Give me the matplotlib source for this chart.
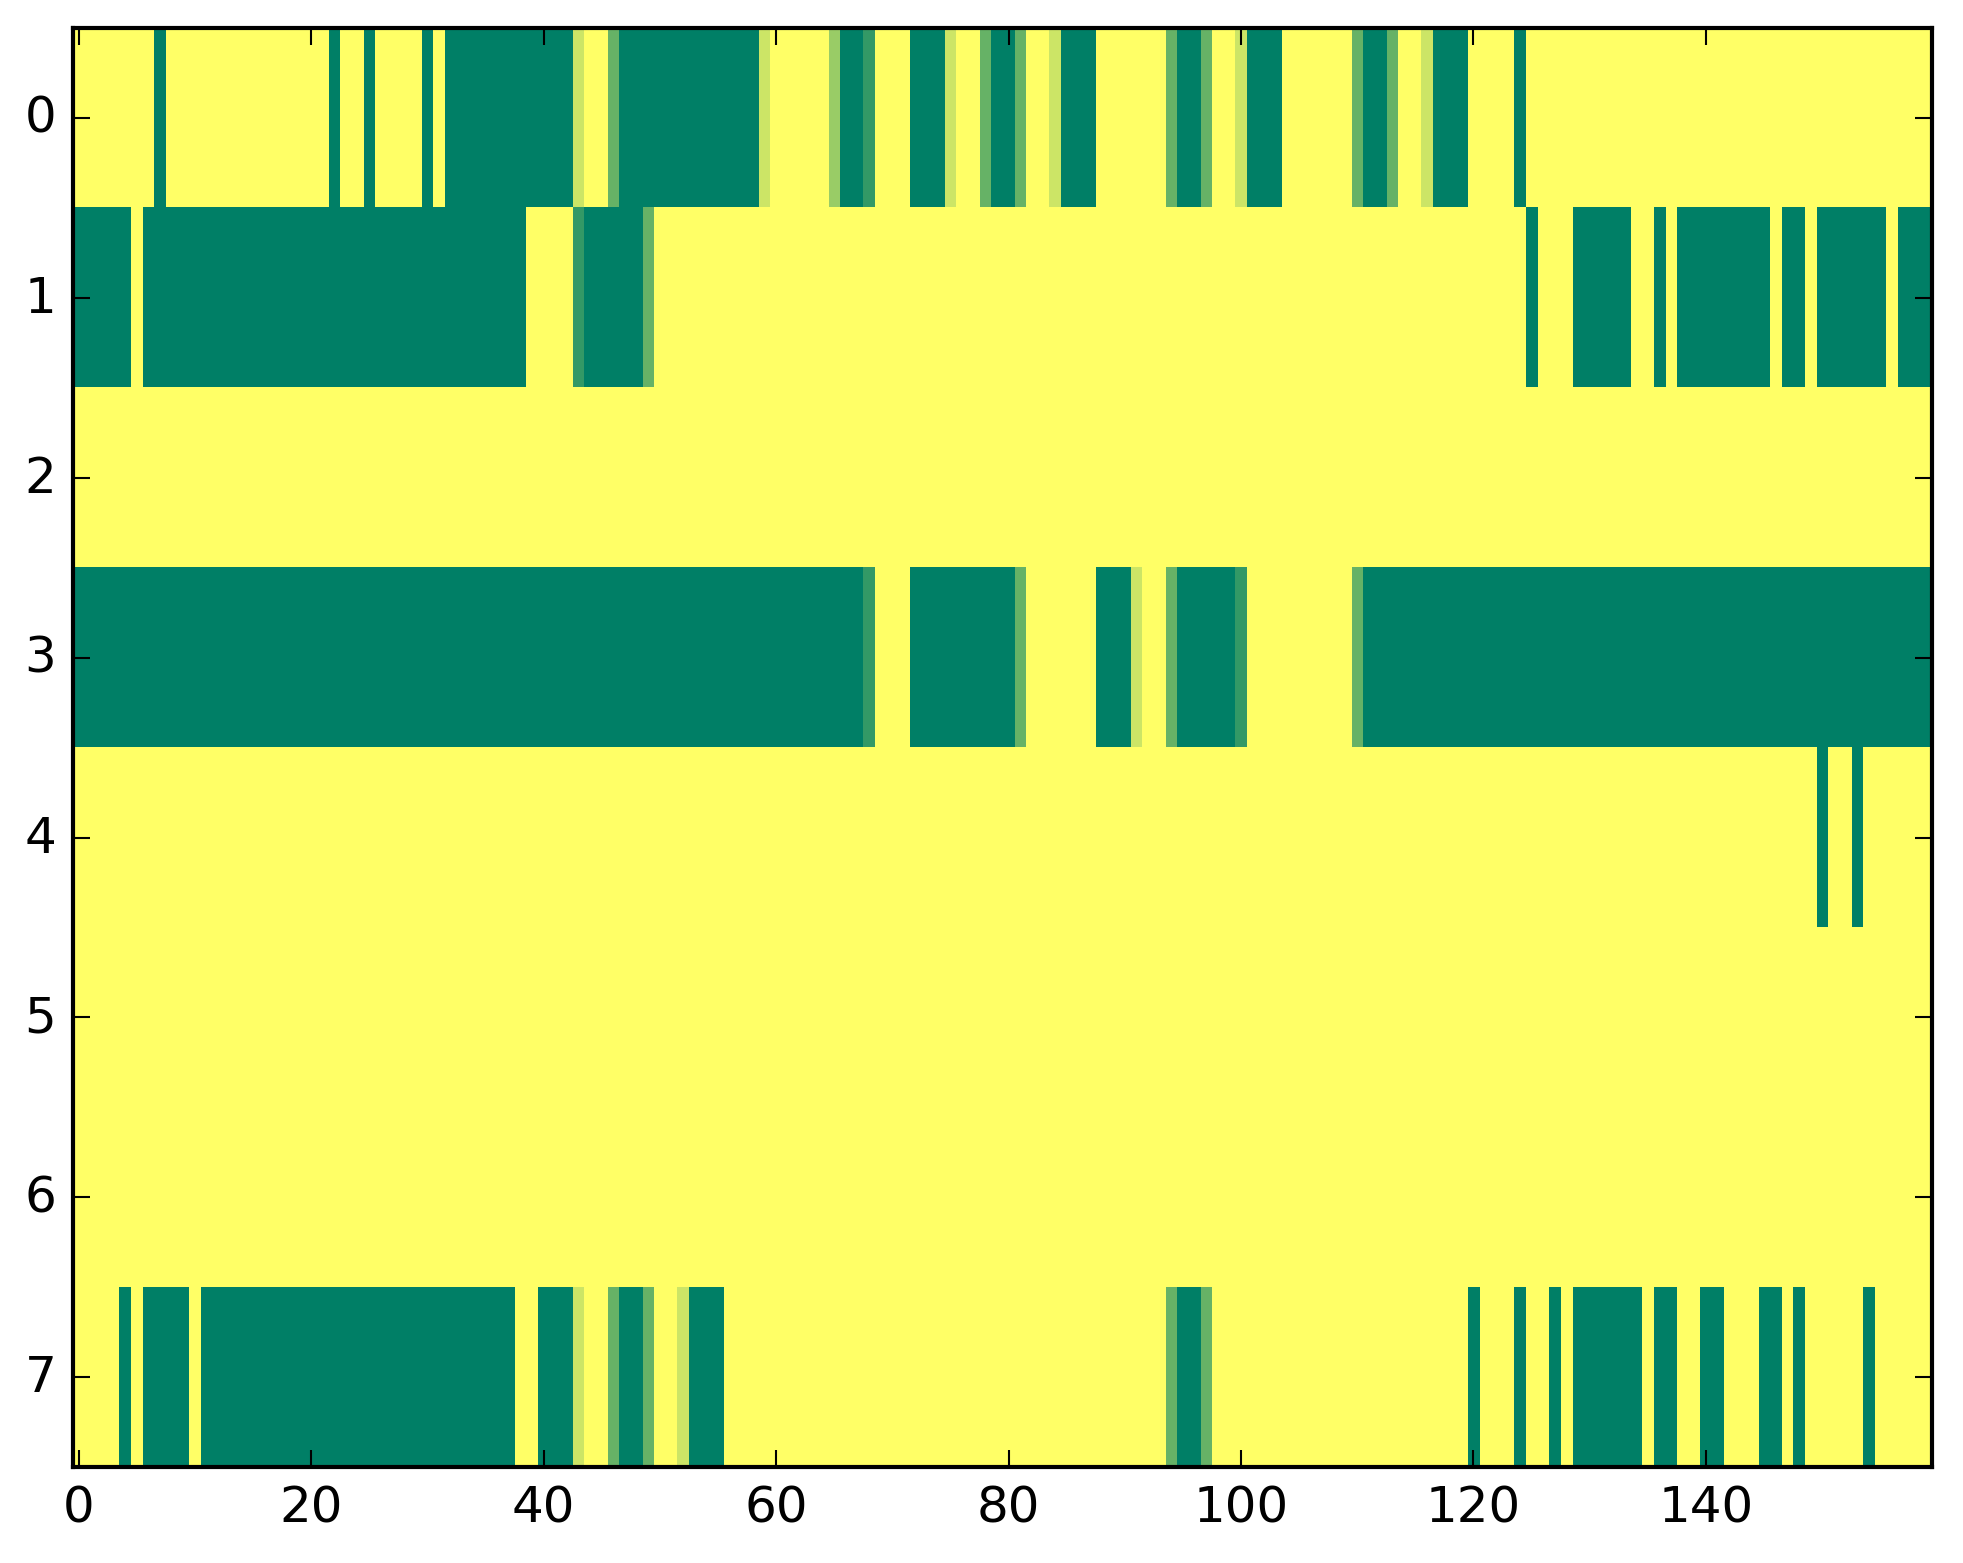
import numpy as np
import matplotlib
matplotlib.use("Agg")
import matplotlib.pyplot as plt

# Run-length encoded rows: (value, count); 160 columns per row
row0 = [(1, 7), (0, 1), (1, 14), (0, 1), (1, 2), (0, 1), (1, 4), (0, 1), (1, 1),
        (0, 11), (0.8, 1), (1, 2), (0.4, 1), (0, 12), (0.8, 1), (1, 5), (0.6, 1),
        (0, 2), (0.2, 1), (1, 3), (0, 3), (0.8, 1), (1, 2), (0.4, 1), (0, 2),
        (0.4, 1), (1, 2), (0.8, 1), (0, 3), (1, 6), (0.4, 1), (0, 2), (0.4, 1),
        (1, 2), (0.8, 1), (0, 3), (1, 6), (0.4, 1), (0, 2), (0.4, 1), (1, 2),
        (0.8, 1), (0, 3), (1, 4), (0, 1), (1, 35)]
row1 = [(0, 5), (1, 1), (0, 33), (1, 4), (0.2, 1), (0, 5), (0.4, 1), (1, 75),
        (0, 1), (1, 3), (0, 5), (1, 2), (0, 1), (1, 1), (0, 8), (1, 1), (0, 2),
        (1, 1), (0, 6), (1, 1), (0, 3)]
row2 = [(1, 160)]
row3 = [(0, 68), (0.2, 1), (1, 3), (0, 9), (0.4, 1), (1, 6), (0, 3), (0.8, 1),
        (1, 2), (0.4, 1), (0, 5), (0.2, 1), (1, 9), (0.4, 1), (0, 49)]
row4 = [(1, 150), (0, 1), (1, 2), (0, 1), (1, 6)]
row5 = [(1, 160)]
row6 = [(1, 160)]
row7 = [(1, 4), (0, 1), (1, 1), (0, 4), (1, 1), (0, 27), (1, 2), (0, 3), (0.8, 1),
        (1, 2), (0.4, 1), (0, 2), (0.4, 1), (1, 2), (0.8, 1), (0, 3), (1, 38),
        (0.4, 1), (0, 2), (0.4, 1), (1, 22), (0, 1), (1, 3), (0, 1), (1, 2),
        (0, 1), (1, 1), (0, 6), (1, 1), (0, 2), (1, 2), (0, 2), (1, 3), (0, 2),
        (1, 1), (0, 1), (1, 5), (0, 1), (1, 5)]

rows = [row0, row1, row2, row3, row4, row5, row6, row7]


def expand(runs):
    out = []
    for v, n in runs:
        out.extend([v] * n)
    return out


data = np.array([expand(r) for r in rows], dtype=float)

plt.style.use("classic")
fig = plt.figure(figsize=(1963 / 300, 1564 / 300), dpi=300, facecolor="white")
ax = fig.add_axes([0.0372, 0.0612, 0.9472, 0.9203])
ax.imshow(data, cmap="summer", vmin=0, vmax=1, aspect="auto",
          interpolation="nearest")
ax.set_xticks([0, 20, 40, 60, 80, 100, 120, 140])
ax.set_yticks(range(8))
ax.tick_params(labelsize=12)
fig.savefig("out.png", dpi=300, facecolor="white")
